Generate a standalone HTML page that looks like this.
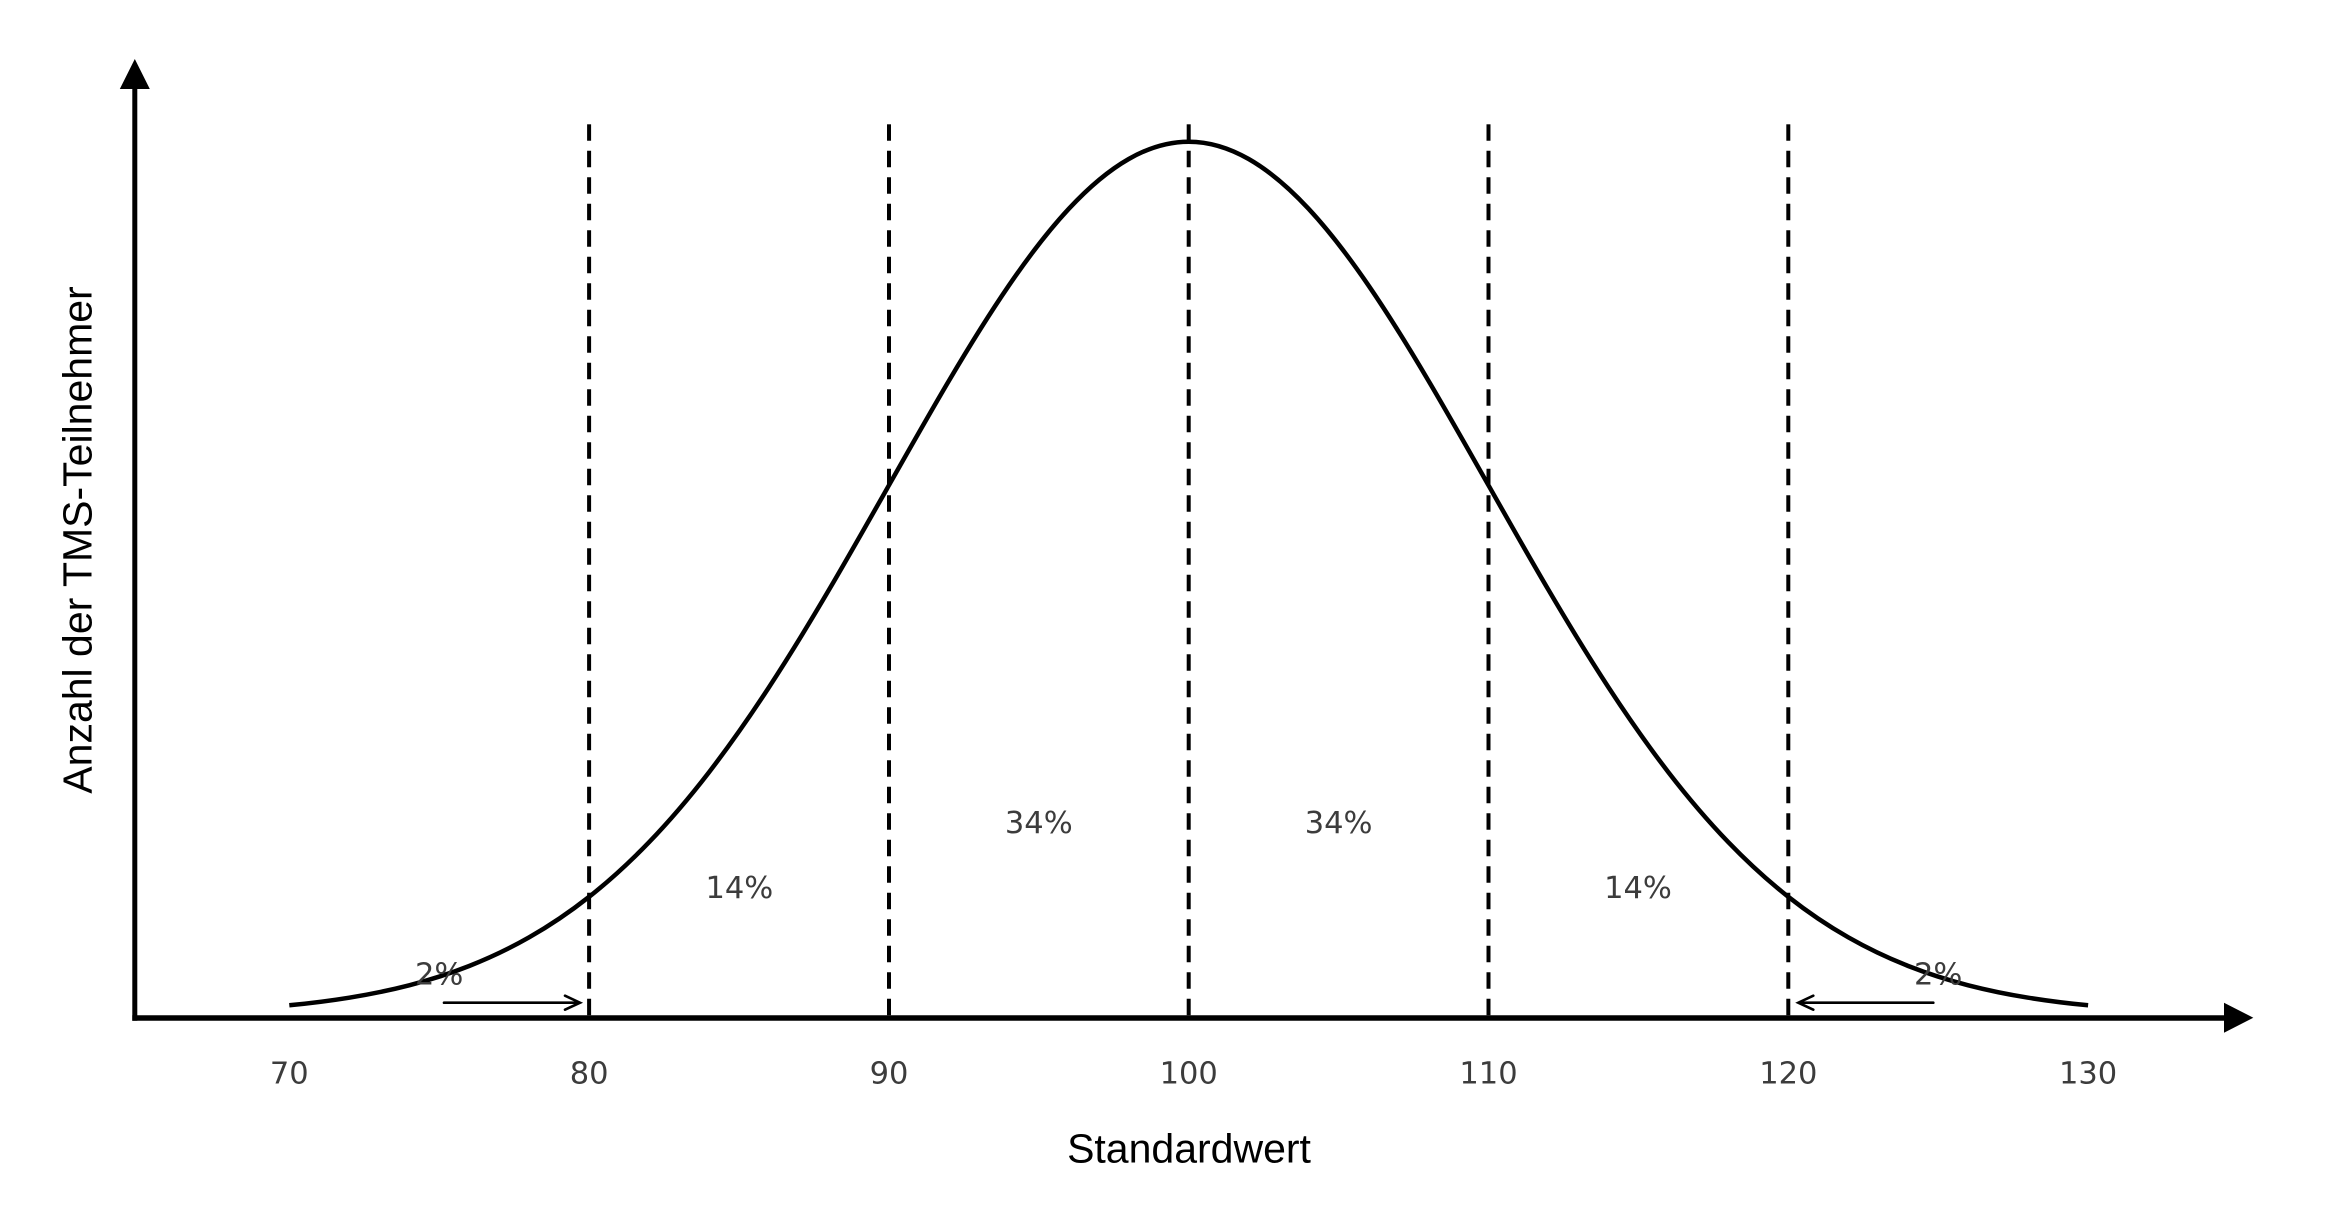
<!DOCTYPE html>
<html>
<head>
<meta charset="utf-8">
<style>
  html, body { margin: 0; padding: 0; background: #ffffff; }
  body { width: 2328px; height: 1214px; overflow: hidden; }
  svg { display: block; }
  .tick { font-family: "DejaVu Sans", "Liberation Sans", sans-serif; font-size: 30.5px; fill: #3c3c3c; }
  .lab { font-family: "Liberation Sans", "DejaVu Sans", sans-serif; font-size: 41px; fill: #000; }
</style>
</head>
<body>
<svg width="2328" height="1214" viewBox="0 0 2328 1214" xmlns="http://www.w3.org/2000/svg">
  <rect x="0" y="0" width="2328" height="1214" fill="#ffffff"/>

  <!-- dashed vertical lines -->
  <g stroke="#000" stroke-width="4" stroke-dasharray="16.5 10" fill="none">
    <line x1="589.1" y1="124.3" x2="589.1" y2="1016"/>
    <line x1="889.0" y1="124.3" x2="889.0" y2="1016"/>
    <line x1="1188.7" y1="124.3" x2="1188.7" y2="1016"/>
    <line x1="1488.5" y1="124.3" x2="1488.5" y2="1016"/>
    <line x1="1788.3" y1="124.3" x2="1788.3" y2="1016"/>
  </g>

  <!-- gaussian curve (smooth cubic Hermite segments) -->
  <g transform="translate(1188.7,0) scale(29.98,1)">
    <path fill="none" stroke="#000" stroke-width="4.5" vector-effect="non-scaling-stroke" stroke-linejoin="round" stroke-linecap="butt"
      d="M-30,1005.3
         C-29.3333,1003.36 -28.6667,1000.91 -28,997.67
         C-27.3333,994.44 -26.6667,990.42 -26,985.27
         C-25.3333,980.12 -24.6667,973.82 -24,965.98
         C-23.3333,958.14 -22.6667,948.73 -22,937.34
         C-21.3333,925.95 -20.6667,912.57 -20,896.81
         C-19.3333,881.05 -18.6667,862.91 -18,842.17
         C-17.3333,821.43 -16.6667,798.09 -16,772.19
         C-15.3333,746.29 -14.6667,717.83 -14,687.24
         C-13.3333,656.65 -12.6667,623.93 -12,589.92
         C-11.3333,555.91 -10.6667,520.63 -10,485.32
         C-9.3333,450.01 -8.6667,414.67 -8,380.85
         C-7.3333,347.03 -6.6667,314.74 -6,285.56
         C-5.3333,256.38 -4.6667,230.34 -4,208.84
         C-3.3333,187.34 -2.6667,170.40 -2,158.99
         C-1.3333,147.58 -0.6667,141.7 0,141.7
         C0.6667,141.7 1.3333,147.58 2,158.99
         C2.6667,170.40 3.3333,187.34 4,208.84
         C4.6667,230.34 5.3333,256.38 6,285.56
         C6.6667,314.74 7.3333,347.03 8,380.85
         C8.6667,414.67 9.3333,450.01 10,485.32
         C10.6667,520.63 11.3333,555.91 12,589.92
         C12.6667,623.93 13.3333,656.65 14,687.24
         C14.6667,717.83 15.3333,746.29 16,772.19
         C16.6667,798.09 17.3333,821.43 18,842.17
         C18.6667,862.91 19.3333,881.05 20,896.81
         C20.6667,912.57 21.3333,925.95 22,937.34
         C22.6667,948.73 23.3333,958.14 24,965.98
         C24.6667,973.82 25.3333,980.12 26,985.27
         C26.6667,990.42 27.3333,994.44 28,997.67
         C28.6667,1000.91 29.3333,1003.36 30,1005.3"/>
  </g>

  <!-- axes -->
  <line x1="134.8" y1="88" x2="134.8" y2="1020.7" stroke="#000" stroke-width="5"/>
  <polygon points="134.8,59 119.8,89 149.8,89" fill="#000"/>
  <line x1="132.3" y1="1018" x2="2226" y2="1018" stroke="#000" stroke-width="5.5"/>
  <polygon points="2253.3,1017.7 2224,1002.7 2224,1032.7" fill="#000"/>

  <!-- annotation arrows -->
  <g stroke="#000" stroke-width="2.6" fill="none" stroke-linecap="round" stroke-linejoin="miter">
    <line x1="444" y1="1002.7" x2="579" y2="1002.7"/>
    <polyline points="565,995.7 580,1002.7 565,1009.7"/>
    <line x1="1933.3" y1="1002.7" x2="1799.3" y2="1002.7"/>
    <polyline points="1813.3,995.7 1798.3,1002.7 1813.3,1009.7"/>
  </g>

  <!-- percentage labels -->
  <g class="tick" text-anchor="middle">
    <text x="439.2" y="984.5">2%</text>
    <text x="1938.2" y="984.5">2%</text>
    <text x="739.4" y="898">14%</text>
    <text x="1638.0" y="898">14%</text>
    <text x="1038.8" y="832.8">34%</text>
    <text x="1338.6" y="832.8">34%</text>
  </g>

  <!-- tick labels -->
  <g class="tick" text-anchor="middle">
    <text x="289.3" y="1083.5">70</text>
    <text x="589.1" y="1083.5">80</text>
    <text x="889.0" y="1083.5">90</text>
    <text x="1188.7" y="1083.5">100</text>
    <text x="1488.5" y="1083.5">110</text>
    <text x="1788.3" y="1083.5">120</text>
    <text x="2088.1" y="1083.5">130</text>
  </g>

  <!-- axis labels -->
  <text class="lab" x="1189" y="1162.5" text-anchor="middle">Standardwert</text>
  <text class="lab" transform="translate(91.7,540) rotate(-90)" text-anchor="middle">Anzahl der TMS-Teilnehmer</text>
</svg>
</body>
</html>
